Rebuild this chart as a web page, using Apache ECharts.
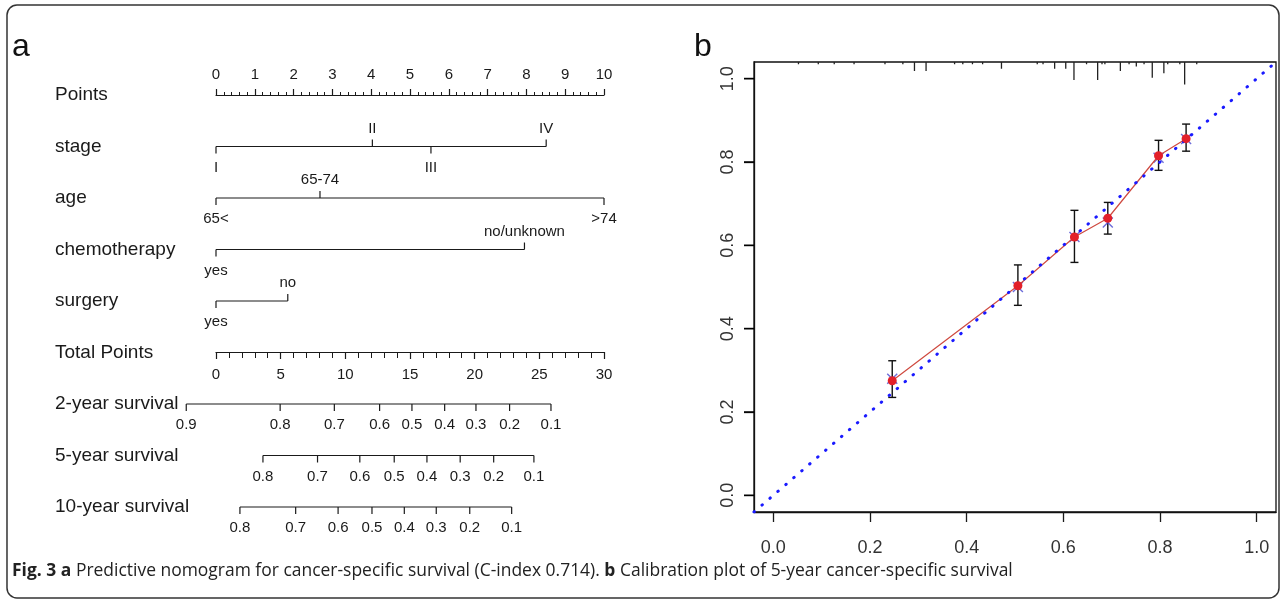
<!DOCTYPE html>
<html>
<head>
<meta charset="utf-8">
<script src="https://cdn.jsdelivr.net/npm/echarts@6/dist/echarts.min.js"></script>
<style>
html, body { margin: 0; padding: 0; background: #fff; }
#chart { width: 1285px; height: 599px; }
</style>
</head>
<body>
<div id="chart"></div>
<script>
// ---- panel a : nomogram ----
var rowNames = ['Points', 'stage', 'age', 'chemotherapy', 'surgery', 'Total Points',
    '2-year survival', '5-year survival', '10-year survival'];

var stageLevels = ['I', 'II', 'III', 'IV'];
var stagePoints = [0, 4.03, 5.54, 8.51];
var ageLevels = ['65<', '65-74', '>74'];
var agePoints = [0, 2.68, 10];
var chemoLevels = ['yes', 'no/unknown'];
var chemoPoints = [0, 7.95];
var surgeryLevels = ['yes', 'no'];
var surgeryPoints = [0, 1.85];

// survival probability -> total points
var surv2Labels = ['0.9', '0.8', '0.7', '0.6', '0.5', '0.4', '0.3', '0.2', '0.1'];
var surv2Total = [-2.3, 4.96, 9.15, 12.65, 15.15, 17.68, 20.1, 22.7, 25.9];
var surv5Labels = ['0.8', '0.7', '0.6', '0.5', '0.4', '0.3', '0.2', '0.1'];
var surv5Total = [3.63, 7.85, 11.12, 13.78, 16.31, 18.88, 21.47, 24.58];
var surv10Labels = ['0.8', '0.7', '0.6', '0.5', '0.4', '0.3', '0.2', '0.1'];
var surv10Total = [1.85, 6.16, 9.44, 12.06, 14.56, 17.03, 19.62, 22.86];

// ---- panel b : calibration ----
var calPredicted = [0.246, 0.506, 0.623, 0.692, 0.797, 0.854];
var calObserved = [0.275, 0.503, 0.620, 0.665, 0.815, 0.856];
var calLower = [0.235, 0.456, 0.559, 0.627, 0.780, 0.826];
var calUpper = [0.323, 0.553, 0.684, 0.703, 0.852, 0.891];
var calCorrected = [0.280, 0.500, 0.620, 0.655, 0.810, 0.855];
var calTicks = [0, 0.2, 0.4, 0.6, 0.8, 1.0];
var idealLine = [[-0.04, -0.04], [1.04, 1.04]];

var rugX = [0.052, 0.093, 0.126, 0.167, 0.231, 0.268, 0.292, 0.316, 0.375, 0.392, 0.412, 0.433,
    0.472, 0.546, 0.558, 0.582, 0.605, 0.622, 0.648, 0.671, 0.680, 0.686, 0.718, 0.736, 0.751,
    0.767, 0.784, 0.808, 0.816, 0.841, 0.851, 0.876];
var rugCount = [1, 1, 1, 1, 1, 1, 4, 4, 1, 1, 1, 1, 3, 1, 1, 3, 3, 8, 1, 8, 1, 1, 4, 1, 2, 1, 7, 5, 1, 1, 10, 1];

var FONT = '"Liberation Sans", Arial, sans-serif';
var INK = '#1a1a1a';
var CAL_MIN = -0.04;

// 一行刻度: 横线 + 刻度 + 标签
function scaleSeries(row, labels, values, xAxisIndex, alternate) {
    var lo = Math.min.apply(null, values);
    var hi = Math.max.apply(null, values);
    var order = values.map(function (v, i) { return i; })
        .sort(function (a, b) { return values[a] - values[b]; });
    var rank = {};
    order.forEach(function (idx, k) { rank[idx] = k; });
    return {
        type: 'custom',
        xAxisIndex: xAxisIndex,
        yAxisIndex: 2,
        silent: true,
        data: values.map(function (v, i) { return [v, row, i]; }),
        renderItem: function (params, api) {
            var i = api.value(2);
            var p = api.coord([api.value(0), row]);
            var up = alternate && rank[i] % 2 === 1;
            var children = [];
            if (rank[i] === 0) {
                var a = api.coord([lo, row]), b = api.coord([hi, row]);
                children.push({
                    type: 'line',
                    shape: { x1: a[0], y1: a[1], x2: b[0], y2: b[1] },
                    style: { stroke: INK, lineWidth: 1.2 }
                });
            }
            children.push({
                type: 'line',
                shape: { x1: p[0], y1: p[1], x2: p[0], y2: p[1] + (up ? -7 : 7) },
                style: { stroke: INK, lineWidth: 1.2 }
            });
            children.push({
                type: 'text',
                x: p[0],
                y: p[1] + (up ? -18 : 21),
                style: {
                    text: labels[i], fill: INK, fontSize: 15, fontFamily: FONT,
                    align: 'center', verticalAlign: 'middle'
                }
            });
            return { type: 'group', children: children };
        }
    };
}

var chart = echarts.init(document.getElementById('chart'));

var option = {
    backgroundColor: '#fff',
    animation: false,
    grid: [
        { left: 216, top: 95, width: 388, height: 1 },
        { left: 216, top: 351, width: 388, height: 1 },
        { left: 216, top: 95, width: 388, height: 412 },
        { left: 754, top: 62, width: 522, height: 450, show: true, borderColor: '#111', borderWidth: 1.3 }
    ],
    xAxis: [
        {
            gridIndex: 0, type: 'value', position: 'top', min: 0, max: 10, interval: 1,
            axisLine: { onZero: false, lineStyle: { color: INK, width: 1.2 } },
            axisTick: { length: 6, lineStyle: { color: INK, width: 1.2 } },
            minorTick: { show: true, splitNumber: 5, length: 3, lineStyle: { color: INK } },
            axisLabel: { color: INK, fontSize: 15, fontFamily: FONT, margin: 13 },
            splitLine: { show: false }
        },
        {
            gridIndex: 1, type: 'value', position: 'bottom', min: 0, max: 30, interval: 5,
            axisLine: { onZero: false, lineStyle: { color: INK, width: 1.2 } },
            axisTick: { length: 7, lineStyle: { color: INK, width: 1.2 } },
            minorTick: { show: true, splitNumber: 5, length: 6, lineStyle: { color: INK } },
            axisLabel: { color: INK, fontSize: 15, fontFamily: FONT, margin: 15 },
            splitLine: { show: false }
        },
        { gridIndex: 2, type: 'value', min: 0, max: 10, show: false },
        { gridIndex: 2, type: 'value', min: 0, max: 30, show: false },
        {
            gridIndex: 3, type: 'value', min: CAL_MIN, max: 1.04, position: 'bottom',
            axisLine: { show: true, onZero: false, lineStyle: { color: '#111', width: 1.3 } },
            axisTick: { show: true, length: 10, customValues: calTicks, lineStyle: { color: INK, width: 1.3 } },
            axisLabel: {
                customValues: calTicks, color: '#333', fontSize: 18, fontFamily: FONT, margin: 27,
                formatter: function (v) { return v.toFixed(1); }
            },
            splitLine: { show: false }
        }
    ],
    yAxis: [
        { gridIndex: 0, type: 'value', show: false },
        { gridIndex: 1, type: 'value', show: false },
        {
            gridIndex: 2, type: 'category', data: rowNames, inverse: true, boundaryGap: false,
            axisLine: { show: false }, axisTick: { show: false },
            axisLabel: { align: 'left', margin: 161, color: INK, fontSize: 19, fontFamily: FONT }
        },
        {
            gridIndex: 3, type: 'value', min: CAL_MIN, max: 1.04, position: 'left',
            axisLine: { show: true, onZero: false, lineStyle: { color: '#111', width: 1.3 } },
            axisTick: { show: true, length: 10, customValues: calTicks, lineStyle: { color: INK, width: 1.3 } },
            axisLabel: {
                customValues: calTicks, color: '#333', fontSize: 18, fontFamily: FONT, margin: 26,
                rotate: 90, verticalAlign: 'middle', align: 'center',
                formatter: function (v) { return v.toFixed(1); }
            },
            splitLine: { show: false }
        },
        { gridIndex: 3, type: 'value', min: 0, max: 200, inverse: true, position: 'right', show: false }
    ],
    graphic: [
        {
            type: 'rect', silent: true,
            shape: { x: 7, y: 5, width: 1272, height: 593, r: 10 },
            style: { fill: 'none', stroke: '#333', lineWidth: 1.5 }
        },
        { type: 'text', left: 12, top: 31, style: { text: 'a', fontSize: 32, fontFamily: FONT, fill: '#111' } },
        { type: 'text', left: 694, top: 31, style: { text: 'b', fontSize: 32, fontFamily: FONT, fill: '#111' } },
        {
            type: 'text', left: 12, top: 562, scaleX: 0.97,
            style: {
                text: '{b|Fig. 3 a} Predictive nomogram for cancer-specific survival (C-index 0.714). {b|b} Calibration plot of 5-year cancer-specific survival',
                fontSize: 18, fontFamily: '"Open Sans", sans-serif', fill: '#222',
                rich: { b: { fontSize: 18, fontWeight: 'bold', fontFamily: '"Open Sans", sans-serif', fill: '#222' } }
            }
        }
    ],
    series: [
        scaleSeries(1, stageLevels, stagePoints, 2, true),
        scaleSeries(2, ageLevels, agePoints, 2, true),
        scaleSeries(3, chemoLevels, chemoPoints, 2, true),
        scaleSeries(4, surgeryLevels, surgeryPoints, 2, true),
        scaleSeries(6, surv2Labels, surv2Total, 3, false),
        scaleSeries(7, surv5Labels, surv5Total, 3, false),
        scaleSeries(8, surv10Labels, surv10Total, 3, false),
        // y 轴刻度线 (单独图层)
        {
            type: 'custom', xAxisIndex: 4, yAxisIndex: 3, silent: true, clip: false, zlevel: 1,
            data: calTicks.map(function (v) { return [CAL_MIN, v]; }),
            renderItem: function (params, api) {
                var p = api.coord([api.value(0), api.value(1)]);
                return {
                    type: 'line',
                    shape: { x1: p[0] - 10, y1: p[1], x2: p[0], y2: p[1] },
                    style: { stroke: '#000', lineWidth: 1.5 }
                };
            }
        },
        // 顶部 rug
        {
            type: 'custom', xAxisIndex: 4, yAxisIndex: 4, silent: true,
            data: rugX.map(function (x, i) { return [x, rugCount[i]]; }),
            renderItem: function (params, api) {
                var p0 = api.coord([api.value(0), 0]);
                var p1 = api.coord([api.value(0), api.value(1)]);
                return {
                    type: 'line',
                    shape: { x1: p0[0], y1: p0[1], x2: p1[0], y2: p1[1] },
                    style: { stroke: '#222', lineWidth: 1.3 }
                };
            }
        },
        // 误差线
        {
            type: 'custom', xAxisIndex: 4, yAxisIndex: 3, silent: true,
            data: calPredicted.map(function (x, i) { return [x, calLower[i], calUpper[i]]; }),
            renderItem: function (params, api) {
                var lo = api.coord([api.value(0), api.value(1)]);
                var hi = api.coord([api.value(0), api.value(2)]);
                var st = { stroke: '#111', lineWidth: 1.4 };
                return {
                    type: 'group',
                    children: [
                        { type: 'line', shape: { x1: lo[0], y1: lo[1], x2: hi[0], y2: hi[1] }, style: st },
                        { type: 'line', shape: { x1: lo[0] - 4, y1: lo[1], x2: lo[0] + 4, y2: lo[1] }, style: st },
                        { type: 'line', shape: { x1: hi[0] - 4, y1: hi[1], x2: hi[0] + 4, y2: hi[1] }, style: st }
                    ]
                };
            }
        },
        {
            type: 'line', xAxisIndex: 4, yAxisIndex: 3, silent: true,
            data: calPredicted.map(function (x, i) { return [x, calObserved[i]]; }),
            symbol: 'circle', symbolSize: 9,
            itemStyle: { color: '#e3202a' },
            lineStyle: { color: '#cf4a40', width: 1.2 }
        },
        {
            type: 'line', xAxisIndex: 4, yAxisIndex: 3, silent: true,
            data: idealLine, symbol: 'none',
            lineStyle: { color: '#1a1aff', width: 3, type: [0.5, 10], cap: 'round' }
        },
        {
            type: 'scatter', xAxisIndex: 4, yAxisIndex: 3, silent: true,
            data: calPredicted.map(function (x, i) { return [x, calCorrected[i]]; }),
            symbol: 'path://M0,0L10,10M10,0L0,10', symbolSize: 10,
            itemStyle: { color: 'transparent', borderColor: '#4848d0', borderWidth: 1.4 }
        }
    ]
};

chart.setOption(option);
</script>
</body>
</html>
